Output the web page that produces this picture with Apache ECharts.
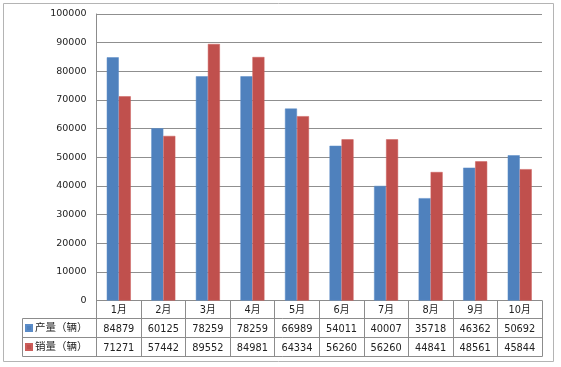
<!DOCTYPE html>
<html><head><meta charset="utf-8">
<script src="https://cdn.jsdelivr.net/npm/echarts@6/dist/echarts.min.js"></script>
<style>html,body{margin:0;padding:0;background:#fff}#c{width:561px;height:367px}</style>
</head><body><div id="c"></div>
<script>
var categories = ['1月','2月','3月','4月','5月','6月','7月','8月','9月','10月'];
var production = [84879,60125,78259,78259,66989,54011,40007,35718,46362,50692];
var sales = [71271,57442,89552,84981,64334,56260,56260,44841,48561,45844];
var seriesNames = ['产量（辆）','销量（辆）'];
var yTicks = {min:0, max:100000, interval:10000};

var FONT = '"DejaVu Sans","Noto Sans CJK SC",sans-serif';
var chart = echarts.init(document.getElementById('c'), null, {renderer:'canvas'});
var L = 96.5, R = 542, T = 14, B = 300.5;
var lineColor = '#8c8c8c';
chart.setOption({
  animation:false,
  backgroundColor:'#fff',
  grid:{left:L, right:561-R, top:T, bottom:367-B},
  legend:[
    {data:[seriesNames[0]], left:25, top:321, padding:0, itemWidth:6, itemHeight:6, icon:'rect', itemGap:0,
     textStyle:{fontFamily:FONT, fontSize:10.5, color:'#222', lineHeight:14, padding:[0,0,0,-2]}},
    {data:[seriesNames[1]], left:25, top:340, padding:0, itemWidth:6, itemHeight:6, icon:'rect', itemGap:0,
     textStyle:{fontFamily:FONT, fontSize:10.5, color:'#222', lineHeight:14, padding:[0,0,0,-2]}}
  ],
  xAxis:{
    type:'category', data:categories,
    axisLine:{lineStyle:{color:lineColor, width:1}},
    axisTick:{show:true, length:56.2, lineStyle:{color:lineColor}},
    axisLabel:{
      margin:0, interval:0, fontFamily:FONT, fontSize:9.8, color:'#222', lineHeight:19,
      formatter:function(v, i){ return v + '\n' + production[i] + '\n' + sales[i]; }
    }
  },
  yAxis:{
    type:'value', min:yTicks.min, max:yTicks.max, interval:yTicks.interval,
    axisLine:{show:true, lineStyle:{color:lineColor}},
    axisTick:{show:false},
    axisLabel:{margin:10, fontFamily:FONT, fontSize:9.5, color:'#222',
      formatter:function(v){ return String(v); }},
    splitLine:{lineStyle:{color:'#8f8f8f', width:1}}
  },
  series:[
    {name:seriesNames[0], type:'bar', data:production, barWidth:12, barGap:'0%',
     itemStyle:{color:'#4F81BD', borderColor:'#5b8cc8', borderWidth:0.5}},
    {name:seriesNames[1], type:'bar', data:sales, barWidth:12, barGap:'0%',
     itemStyle:{color:'#C0504D', borderColor:'#cc5d5a', borderWidth:0.5}}
  ],
  graphic:[
    {type:'rect', shape:{x:3.5, y:3.5, width:550, height:358}, style:{fill:null, stroke:'#b4b4b4', lineWidth:1}, silent:true, z:-1},
    {type:'line', shape:{x1:22.5, y1:318.5, x2:R, y2:318.5}, style:{stroke:lineColor, lineWidth:1}},
    {type:'line', shape:{x1:22.5, y1:337.5, x2:R, y2:337.5}, style:{stroke:lineColor, lineWidth:1}},
    {type:'line', shape:{x1:22.5, y1:356.5, x2:R, y2:356.5}, style:{stroke:lineColor, lineWidth:1}},
    {type:'line', shape:{x1:22.5, y1:318.5, x2:22.5, y2:356.5}, style:{stroke:lineColor, lineWidth:1}}
  ]
});
</script></body></html>
